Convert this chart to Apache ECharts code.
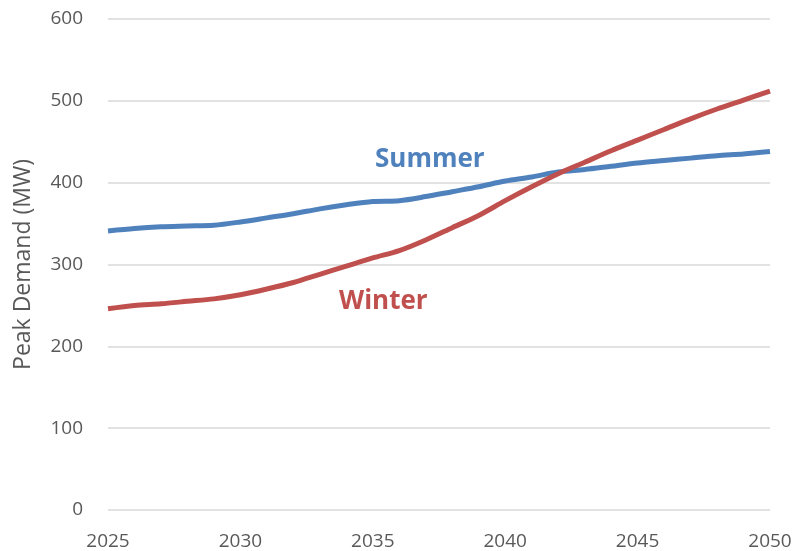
<!DOCTYPE html>
<html>
<head>
<meta charset="utf-8">
<script src="https://cdn.jsdelivr.net/npm/echarts@6/dist/echarts.min.js"></script>
<style>
  html, body { margin: 0; padding: 0; background: #fff; }
  #chart { width: 796px; height: 551px; }
</style>
</head>
<body>
<div id="chart"></div>
<script>
// years on the x axis
const years = [2025, 2026, 2027, 2028, 2029, 2030, 2031, 2032, 2033, 2034, 2035, 2036, 2037,
  2038, 2039, 2040, 2041, 2042, 2043, 2044, 2045, 2046, 2047, 2048, 2049, 2050];
// peak demand, MW
const summer = [341, 344, 346, 347, 348, 352, 357, 362, 368, 373, 377, 378, 383,
  389, 395, 402, 407, 413, 416, 420, 424, 427, 430, 433, 435, 438];
const winter = [246, 250, 252, 255, 258, 263, 270, 278, 288, 298, 308, 317, 330,
  345, 360, 378, 395, 411, 425, 439, 452, 465, 478, 490, 501, 512];

const font = "Open Sans, Noto Sans, sans-serif";
const chart = echarts.init(document.getElementById("chart"));

const pairs = (vals) => years.map((y, i) => [y, vals[i]]);

chart.setOption({
  animation: false,
  grid: { left: 108, right: 26, top: 19, bottom: 40 },
  xAxis: {
    type: "value",
    min: 2025,
    max: 2050,
    interval: 5,
    axisLine: { show: false },
    axisTick: { show: false },
    splitLine: { show: false },
    axisLabel: {
      color: "#595959", fontSize: 19, fontFamily: font, margin: 22,
      formatter: (v) => String(v)
    }
  },
  yAxis: {
    type: "value",
    min: 0,
    max: 600,
    interval: 100,
    name: "Peak Demand (MW)",
    nameLocation: "middle",
    nameGap: 73,
    nameTextStyle: { color: "#595959", fontSize: 23, fontFamily: font },
    axisLine: { show: false },
    axisTick: { show: false },
    splitLine: { lineStyle: { color: "#d9d9d9", width: 1.5 } },
    axisLabel: { color: "#595959", fontSize: 19, fontFamily: font, margin: 25 }
  },
  series: [
    {
      name: "Summer",
      type: "line",
      data: pairs(summer),
      smooth: 0.3,
      showSymbol: false,
      lineStyle: { color: "#4f81bd", width: 5 }
    },
    {
      name: "Winter",
      type: "line",
      data: pairs(winter),
      smooth: 0.3,
      showSymbol: false,
      lineStyle: { color: "#c0504d", width: 5 }
    }
  ],
  graphic: [
    {
      type: "text", left: 375, top: 147,
      style: { text: "Summer", fill: "#4f81bd", font: "bold 26px " + font }
    },
    {
      type: "text", left: 339, top: 289,
      style: { text: "Winter", fill: "#c0504d", font: "bold 26px " + font }
    }
  ]
});
</script>
</body>
</html>
